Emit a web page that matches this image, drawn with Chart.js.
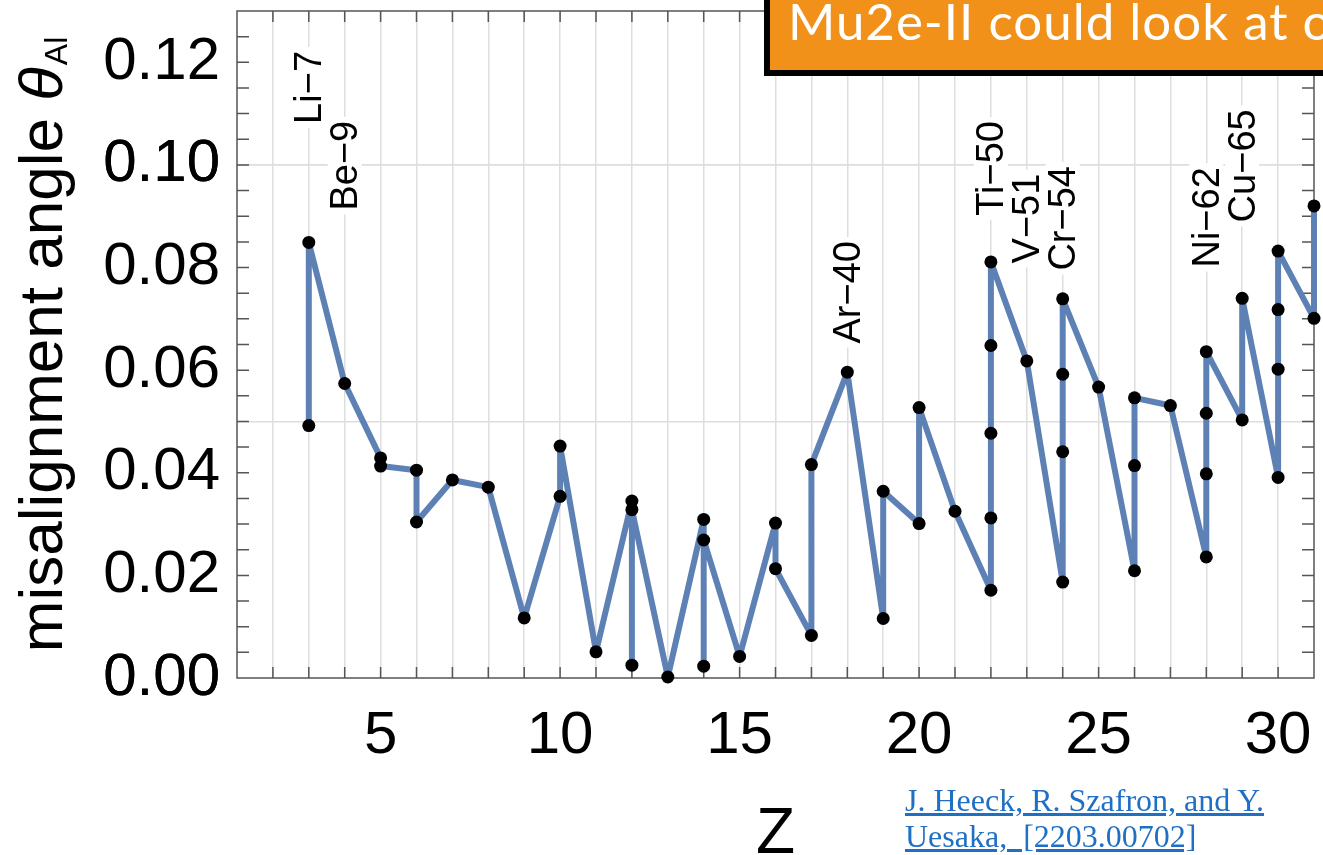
<!DOCTYPE html>
<html>
<head>
<meta charset="utf-8">
<script src="https://cdn.jsdelivr.net/npm/chart.js@4.4.0/dist/chart.umd.min.js"></script>
<style>
  html, body { margin: 0; padding: 0; background: #fff; overflow: hidden; }
  #wrap { position: relative; width: 1323px; height: 855px; overflow: hidden; }
  #note {
    position: absolute; left: 764px; top: -6px; width: 640px; height: 76px;
    background: #F29119; border-left: 6px solid #000; border-bottom: 6px solid #000;
    white-space: nowrap; overflow: hidden;
  }
  #note span {
    position: absolute; left: 18px; top: -3px;
    font-family: Lato, "Noto Sans", sans-serif; font-size: 51px; letter-spacing: 1px;
    line-height: 60px; color: #fff;
  }
  #cite {
    position: absolute; left: 905px; top: 782px;
    font-family: "Liberation Serif", serif; font-size: 32px; line-height: 36px; color: #1F6FC4;
  }
  #cite span { text-decoration: underline; }
</style>
</head>
<body>
<div id="wrap">
  <canvas id="myChart" width="1323" height="855"></canvas>
  <div id="note"><span>Mu2e-II could look at o</span></div>
  <div id="cite"><span>J. Heeck, R. Szafron, and Y.</span><br><span>Uesaka,&nbsp; [2203.00702]</span></div>
</div>
<script>
// nuclear charge Z and misalignment angle, one entry per isotope (same Z stacked)
var zValues = [3, 3, 4, 5, 5, 6, 6, 7, 8, 9, 10, 10, 11, 12, 12, 12, 13,
  14, 14, 14, 15, 16, 16, 17, 17, 18, 19, 19, 20, 20, 21,
  22, 22, 22, 22, 22, 23, 24, 24, 24, 24, 25, 26, 26, 26, 27,
  28, 28, 28, 28, 29, 29, 30, 30, 30, 30, 31, 31];
var thetaValues = [0.0492, 0.0849, 0.0574, 0.0429, 0.0413, 0.0405, 0.0304, 0.0386, 0.0372, 0.0117,
  0.0354, 0.0452, 0.0051, 0.0345, 0.0025, 0.0328, 0.0002,
  0.0309, 0.0023, 0.0269, 0.0042, 0.0302, 0.0213, 0.0083, 0.0416, 0.0596, 0.0116, 0.0364,
  0.0301, 0.0527, 0.0325,
  0.0171, 0.0312, 0.0477, 0.0648, 0.0811, 0.0618, 0.0187, 0.0441, 0.0592, 0.0739, 0.0567,
  0.0209, 0.0414, 0.0546, 0.0531,
  0.0236, 0.0398, 0.0516, 0.0636, 0.0503, 0.0740, 0.0391, 0.0602, 0.0718, 0.0832, 0.0701, 0.0920];

// isotope annotations: name, Z, and where the rotated text starts
var isotopeNames = ["Li\u22127", "Be\u22129", "Ar\u221240", "Ti\u221250", "V\u221251", "Cr\u221254", "Ni\u221262", "Cu\u221265"];
var isotopeZ = [3, 4, 18, 22, 23, 24, 28, 29];
var isotopeBase = [0.108, 0.0911, 0.0652, 0.0901, 0.0808, 0.0794, 0.0800, 0.0888];

var xTicks = [5, 10, 15, 20, 25, 30];
var yTicks = [0, 0.02, 0.04, 0.06, 0.08, 0.10, 0.12];

var points = zValues.map(function (z, i) { return { x: z, y: thetaValues[i] }; });

var lineBlue = "#5E81B5";
var gridGrey = "#dedede";
var frameGrey = "#555";

var framePlugin = {
  id: "frame",
  beforeDatasetsDraw: function (chart) {
    var ctx = chart.ctx, a = chart.chartArea, x = chart.scales.x, y = chart.scales.y;
    ctx.save();
    ctx.strokeStyle = frameGrey;
    ctx.lineWidth = 1.5;
    ctx.beginPath();
    for (var z = 2; z <= 30; z++) {
      var px = x.getPixelForValue(z);
      ctx.moveTo(px, a.bottom); ctx.lineTo(px, a.bottom - 11);
      ctx.moveTo(px, a.top); ctx.lineTo(px, a.top + 11);
    }
    for (var i = 1; i <= 25; i++) {
      var py = y.getPixelForValue(i * 0.005);
      ctx.moveTo(a.left, py); ctx.lineTo(a.left + 12, py);
      ctx.moveTo(a.right, py); ctx.lineTo(a.right - 12, py);
    }
    ctx.stroke();
    ctx.strokeRect(a.left, a.top, a.right - a.left, a.bottom - a.top);
    ctx.restore();
  },
  afterDraw: function (chart) {
    var ctx = chart.ctx, a = chart.chartArea, x = chart.scales.x, y = chart.scales.y;
    ctx.save();
    // rotated isotope labels with white backing
    ctx.font = "38px 'Liberation Sans', Arial, sans-serif";
    ctx.textBaseline = "middle";
    ctx.textAlign = "left";
    isotopeNames.forEach(function (name, i) {
      var px = x.getPixelForValue(isotopeZ[i]);
      var py = y.getPixelForValue(isotopeBase[i]);
      var w = ctx.measureText(name).width;
      ctx.save();
      ctx.translate(px, py);
      ctx.rotate(-Math.PI / 2);
      ctx.fillStyle = "#fff";
      ctx.fillRect(-4, -17, w + 8, 34);
      ctx.fillStyle = "#000";
      ctx.fillText(name, 0, 2);
      ctx.restore();
    });

    // y axis title with italic theta and subscript
    var main = "misalignment angle ";
    var fMain = "62px 'Liberation Sans', Arial, sans-serif";
    var fTheta = "italic 62px 'Liberation Sans', Arial, sans-serif";
    var fSub = "32px 'Liberation Sans', Arial, sans-serif";
    ctx.font = fMain; var w1 = ctx.measureText(main).width;
    ctx.font = fTheta; var w2 = ctx.measureText("\u03B8").width;
    ctx.font = fSub; var w3 = ctx.measureText("Al").width;
    var total = w1 + w2 + 2 + w3;
    var cy = (a.top + a.bottom) / 2;
    ctx.translate(a.left - 175, cy);
    ctx.rotate(-Math.PI / 2);
    ctx.fillStyle = "#000";
    ctx.textBaseline = "alphabetic";
    ctx.font = fMain; ctx.fillText(main, -total / 2, 0);
    ctx.font = fTheta; ctx.fillText("\u03B8", -total / 2 + w1, 0);
    ctx.font = fSub; ctx.fillText("Al", -total / 2 + w1 + w2 + 2, 5);
    ctx.restore();

    // x axis title
    ctx.save();
    ctx.font = "64px 'Liberation Sans', Arial, sans-serif";
    ctx.fillStyle = "#000";
    ctx.textAlign = "center";
    ctx.textBaseline = "alphabetic";
    ctx.fillText("Z", (a.left + a.right) / 2, a.bottom + 175);
    ctx.restore();
  }
};

new Chart("myChart", {
  type: "line",
  data: {
    datasets: [{
      data: points,
      borderColor: lineBlue,
      borderWidth: 6,
      borderJoinStyle: "round",
      borderCapStyle: "round",
      tension: 0,
      pointRadius: 6.5,
      pointHoverRadius: 6.5,
      pointBackgroundColor: "#000",
      pointBorderWidth: 0,
      clip: false
    }]
  },
  options: {
    responsive: false,
    animation: false,
    layout: { padding: { top: 11, right: 9, left: 0, bottom: 0 } },
    plugins: { legend: { display: false }, tooltip: { enabled: false } },
    scales: {
      x: {
        type: "linear",
        min: 1,
        max: 31,
        afterFit: function (s) {
          s.height = 177;
          s.paddingLeft = 0; s.paddingRight = 0;
        },
        afterBuildTicks: function (s) {
          s.ticks = [];
          for (var z = 1; z <= 31; z++) s.ticks.push({ value: z });
        },
        border: { display: false },
        grid: {
          drawTicks: false,
          lineWidth: 1.5,
          color: function (c) { return c.tick && c.tick.value > 1 && c.tick.value < 31 ? gridGrey : "rgba(0,0,0,0)"; }
        },
        ticks: {
          autoSkip: false,
          maxRotation: 0,
          padding: 22,
          color: "#000",
          font: { family: "'Liberation Sans', Arial, sans-serif", size: 60 },
          callback: function (v) { return xTicks.indexOf(v) >= 0 ? String(v) : ""; }
        }
      },
      y: {
        min: 0,
        max: 0.13,
        afterFit: function (s) {
          s.width = 237;
          s.paddingTop = 0; s.paddingBottom = 0;
        },
        afterBuildTicks: function (s) {
          s.ticks = [0, 0.05, 0.10].concat(yTicks).map(function (v) { return { value: v }; });
        },
        border: { display: false },
        grid: {
          drawTicks: false,
          lineWidth: 1.5,
          color: function (c) {
            var m = Math.round(c.tick.value * 1000);
            return (m === 50 || m === 100) ? gridGrey : "rgba(0,0,0,0)";
          }
        },
        ticks: {
          autoSkip: false,
          padding: 17,
          color: "#000",
          font: { family: "'Liberation Sans', Arial, sans-serif", size: 60 },
          callback: function (v) {
            var m = Math.round(v * 1000);
            return (m % 20 === 0) ? v.toFixed(2) : "";
          }
        }
      }
    }
  },
  plugins: [framePlugin]
});
</script>
</body>
</html>
